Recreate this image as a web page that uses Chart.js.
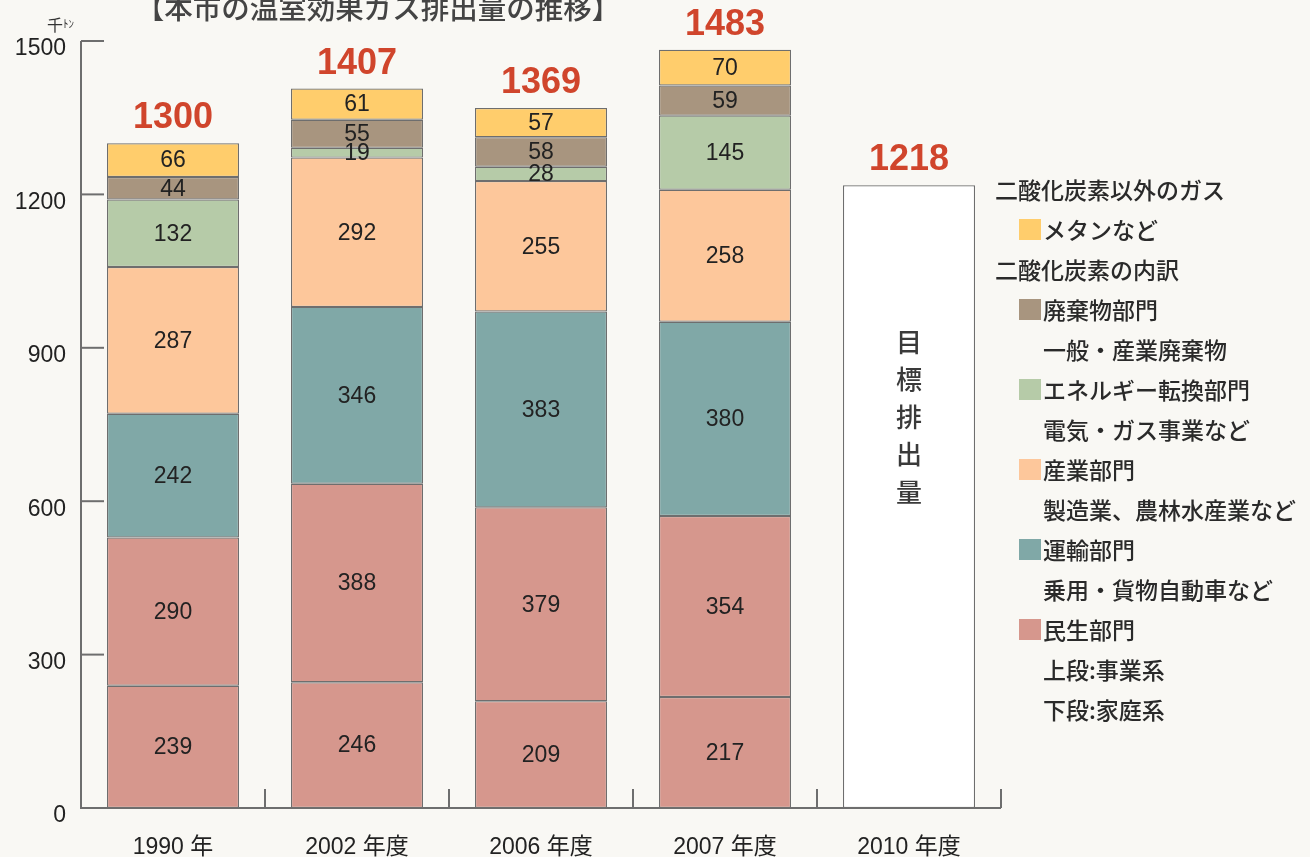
<!DOCTYPE html>
<html><head><meta charset="utf-8">
<script src="https://cdn.jsdelivr.net/npm/chart.js@4.4.1/dist/chart.umd.min.js"></script>
<style>html,body{margin:0;padding:0;background:#F9F8F4;overflow:hidden}#wrap{position:relative;width:1310px;height:857px}</style>
</head><body><div id="wrap"><canvas id="c" width="1310" height="857"></canvas></div>
<script>
const categories = ['1990 年', '2002 年度', '2006 年度', '2007 年度', '2010 年度'];
const household = [239, 246, 209, 217, null];
const business = [290, 388, 379, 354, null];
const transport = [242, 346, 383, 380, null];
const industry = [287, 292, 255, 258, null];
const energy = [132, 19, 28, 145, null];
const waste = [44, 55, 58, 59, null];
const methane = [66, 61, 57, 70, null];
const target = [null, null, null, null, 1218];
const totals = [1300, 1407, 1369, 1483, 1218];
const yTickValues = [0, 300, 600, 900, 1200, 1500];
const targetText = ['目', '標', '排', '出', '量'];
const titleText = '【本市の温室効果ガス排出量の推移】';
const unitText = '千';
const unitSmall = 'ﾄﾝ';
const legendLines = [
  {text: '二酸化炭素以外のガス', kind: 'header'},
  {text: 'メタンなど', kind: 'item', color: '#FFCD6C'},
  {text: '二酸化炭素の内訳', kind: 'header'},
  {text: '廃棄物部門', kind: 'item', color: '#A8957F'},
  {text: '一般・産業廃棄物', kind: 'sub'},
  {text: 'エネルギー転換部門', kind: 'item', color: '#B6CBA8'},
  {text: '電気・ガス事業など', kind: 'sub'},
  {text: '産業部門', kind: 'item', color: '#FDC79B'},
  {text: '製造業、農林水産業など', kind: 'sub'},
  {text: '運輸部門', kind: 'item', color: '#80A8A7'},
  {text: '乗用・貨物自動車など', kind: 'sub'},
  {text: '民生部門', kind: 'item', color: '#D6978D'},
  {text: '上段:事業系', kind: 'sub'},
  {text: '下段:家庭系', kind: 'sub'}
];

const BORDER = '#6E6E6E';
const NUMFONT = '"Liberation Sans", Arial, "Noto Sans CJK JP", sans-serif';
const CJK = '"Noto Sans CJK JP", "Noto Sans", sans-serif';

function ds(label, data, color) {
  return {label, data, backgroundColor: color, borderColor: BORDER, borderWidth: 1.2,
    borderSkipped: false, stack: 's', barPercentage: 132/184, categoryPercentage: 1};
}

const extras = {
  id: 'extras',
  afterDatasetsDraw(chart) {
    const ctx = chart.ctx;
    const ca = chart.chartArea;
    const xs = chart.scales.x, ys = chart.scales.y;
    ctx.save();
    // axes
    ctx.strokeStyle = BORDER; ctx.lineWidth = 2;
    ctx.beginPath();
    ctx.moveTo(ca.left, ys.getPixelForValue(1500)); ctx.lineTo(ca.left, ca.bottom);
    ctx.lineTo(ca.right, ca.bottom);
    ctx.stroke();
    // inner y ticks
    yTickValues.forEach(v => {
      if (v === 0) return;
      const y = ys.getPixelForValue(v);
      ctx.beginPath(); ctx.moveTo(ca.left, y); ctx.lineTo(ca.left + 23, y); ctx.stroke();
    });
    // x boundary ticks
    const cw = (ca.right - ca.left) / categories.length;
    for (let i = 1; i <= categories.length; i++) {
      const x = Math.round(ca.left + i * cw);
      ctx.beginPath(); ctx.moveTo(x, ca.bottom - 19); ctx.lineTo(x, ca.bottom); ctx.stroke();
    }
    // segment labels
    ctx.fillStyle = '#222';
    ctx.font = '23px ' + NUMFONT;
    ctx.textAlign = 'center'; ctx.textBaseline = 'middle';
    for (let d = 0; d < 7; d++) {
      const meta = chart.getDatasetMeta(d);
      meta.data.forEach((el, i) => {
        const v = chart.data.datasets[d].data[i];
        if (v == null) return;
        ctx.fillText(String(v), el.x, (el.y + el.base) / 2 + 1);
      });
    }
    // totals
    ctx.fillStyle = '#D0452C';
    ctx.font = 'bold 36px ' + NUMFONT;
    ctx.textBaseline = 'alphabetic';
    totals.forEach((t, i) => {
      const x = xs.getPixelForValue(i);
      ctx.fillText(String(t), x, ys.getPixelForValue(t) - 15);
    });
    // target vertical text
    ctx.fillStyle = '#3a3a3a';
    ctx.font = '500 26px ' + CJK;
    ctx.textBaseline = 'middle';
    const tx = xs.getPixelForValue(4);
    targetText.forEach((c, k) => ctx.fillText(c, tx, 342 + k * 37.5));
    // unit
    ctx.fillStyle = '#333';
    ctx.textAlign = 'left';
    ctx.font = '16px ' + CJK;
    ctx.fillText(unitText, 47, 25);
    ctx.font = '11px ' + CJK;
    ctx.fillText(unitSmall, 63, 24);
    // title
    ctx.fillStyle = '#444';
    ctx.font = '500 28.5px ' + CJK;
    ctx.textAlign = 'center';
    ctx.fillText(titleText, 378, 8);
    // legend
    ctx.textAlign = 'left';
    ctx.font = '500 23px ' + CJK;
    legendLines.forEach((l, k) => {
      const y = 190 + k * 40;
      if (l.kind === 'header') {
        ctx.fillStyle = '#2a2a2a'; ctx.fillText(l.text, 995, y);
      } else {
        if (l.kind === 'item') {
          ctx.fillStyle = l.color; ctx.fillRect(1019, y - 11, 22, 21);
        }
        ctx.fillStyle = '#2a2a2a'; ctx.fillText(l.text, 1043, y);
      }
    });
    ctx.restore();
  }
};

const bg = {
  id: 'bg',
  beforeDraw(chart) {
    const ctx = chart.ctx; ctx.save(); ctx.fillStyle = '#F9F8F4';
    ctx.fillRect(0, 0, chart.width, chart.height); ctx.restore();
  }
};

new Chart(document.getElementById('c'), {
  type: 'bar',
  data: {
    labels: categories,
    datasets: [
      ds('家庭系', household, '#D6978D'),
      ds('事業系', business, '#D6978D'),
      ds('運輸部門', transport, '#80A8A7'),
      ds('産業部門', industry, '#FDC79B'),
      ds('エネルギー転換部門', energy, '#B6CBA8'),
      ds('廃棄物部門', waste, '#A8957F'),
      ds('メタンなど', methane, '#FFCD6C'),
      ds('目標排出量', target, '#FFFFFF')
    ]
  },
  options: {
    responsive: false, animation: false, devicePixelRatio: 1,
    layout: {padding: {top: 41, right: 309, left: 0, bottom: 0}},
    plugins: {legend: {display: false}, tooltip: {enabled: false}, title: {display: false}},
    scales: {
      x: {
        stacked: true,
        grid: {display: false, drawTicks: false},
        border: {display: false},
        ticks: {color: '#222', font: {size: 23, family: NUMFONT}, padding: 26, maxRotation: 0},
        afterFit(s) { s.height = 49; }
      },
      y: {
        stacked: true, min: 0, max: 1500,
        grid: {display: false, drawTicks: false},
        border: {display: false},
        afterBuildTicks(s) { s.ticks = yTickValues.map(v => ({value: v})); },
        ticks: {color: '#222', font: {size: 23, family: NUMFONT}, padding: 15, labelOffset: 8,
          callback: v => String(v)},
        afterFit(s) { s.width = 81; }
      }
    }
  },
  plugins: [bg, extras]
});
</script></body></html>
